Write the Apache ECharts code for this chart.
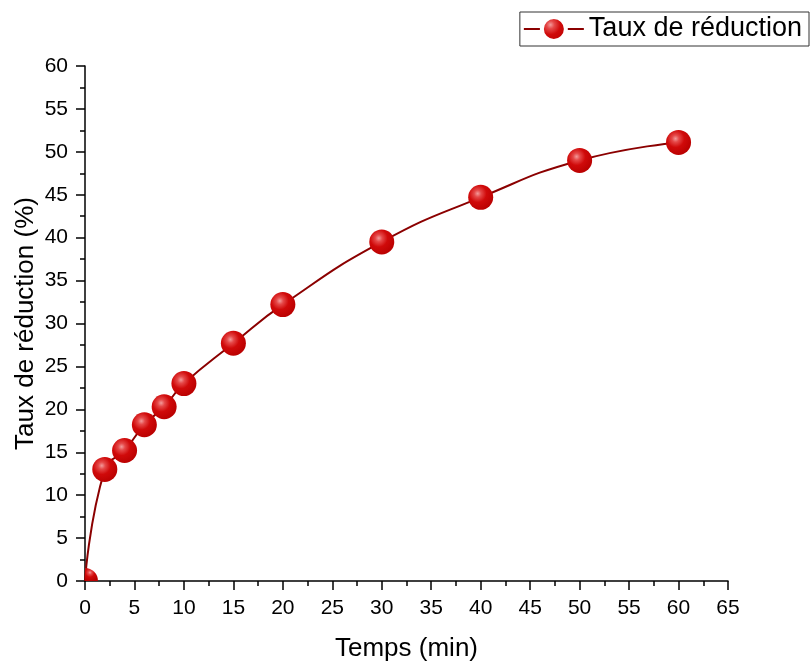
<!DOCTYPE html>
<html>
<head>
<meta charset="utf-8">
<script src="https://cdn.jsdelivr.net/npm/echarts@6/dist/echarts.min.js"></script>
<style>
  html, body { margin: 0; padding: 0; background: #fff; }
  #chart { width: 811px; height: 662px; }
</style>
</head>
<body>
<div id="chart"></div>
<script>
// temps (min) et taux de réduction (%)
const temps = [0, 2, 4, 6, 8, 10, 15, 20, 30, 40, 50, 60];
const taux = [0, 13, 15.2, 18.2, 20.3, 23, 27.7, 32.2, 39.5, 44.7, 49, 51.1];
const seriesName = 'Taux de réduction';

const chart = echarts.init(document.getElementById('chart'));
const font = 'Liberation Sans, Arial, sans-serif';

// boule rouge avec reflet
const ballColor = new echarts.graphic.RadialGradient(0.38, 0.35, 0.7, [
  { offset: 0, color: '#f39a9a' },
  { offset: 0.2, color: '#e54848' },
  { offset: 0.5, color: '#d00a0a' },
  { offset: 1, color: '#b80000' }
]);

const axisCommon = {
  type: 'value',
  nameLocation: 'middle',
  nameMoveOverlap: false,
  nameTextStyle: { fontFamily: font, fontSize: 26, color: '#000' },
  axisLine: { show: true, onZero: false, lineStyle: { color: '#000', width: 1.5 } },
  axisTick: { show: true, length: 9, lineStyle: { color: '#000', width: 1.5 } },
  minorTick: { show: true, splitNumber: 2, length: 5, lineStyle: { color: '#000', width: 1.5 } },
  axisLabel: { fontFamily: font, fontSize: 21, color: '#000', margin: 17 },
  splitLine: { show: false }
};

const points = temps.map((t, i) => {
  // le point à l'origine est coupé par les axes (quart de boule)
  if (i === 0) {
    return {
      value: [t, taux[i]],
      symbol: 'path://M0,10 L0,0 A10,10 0 0,1 10,10 Z',
      symbolSize: [13, 13],
      symbolOffset: [6.5, -6.5]
    };
  }
  return [t, taux[i]];
});

const option = {
  animation: false,
  grid: { left: 85, right: 83, top: 66, bottom: 81, outerBoundsMode: 'none' },
  legend: {
    right: 2,
    top: 12,
    data: [seriesName],
    borderColor: '#333',
    borderWidth: 1,
    padding: [3, 7, 3, 3],
    itemWidth: 60,
    itemHeight: 30,
    itemGap: 4,
    // anneau blanc autour de la boule : coupe la ligne comme dans l'original
    itemStyle: { borderColor: '#fff', borderWidth: 4 },
    textStyle: { fontFamily: font, fontSize: 27, color: '#000' }
  },
  xAxis: Object.assign({}, axisCommon, {
    min: 0,
    max: 65,
    interval: 5,
    name: 'Temps (min)',
    nameGap: 55
  }),
  yAxis: Object.assign({}, axisCommon, {
    min: 0,
    max: 60,
    interval: 5,
    name: 'Taux de réduction (%)',
    nameGap: 46
  }),
  series: [{
    name: seriesName,
    type: 'line',
    smooth: 0.5,
    data: points,
    symbol: 'circle',
    symbolSize: 25,
    lineStyle: { color: '#8b0000', width: 2 },
    itemStyle: { color: ballColor, borderWidth: 0 }
  }]
};
chart.setOption(option);
</script>
</body>
</html>
